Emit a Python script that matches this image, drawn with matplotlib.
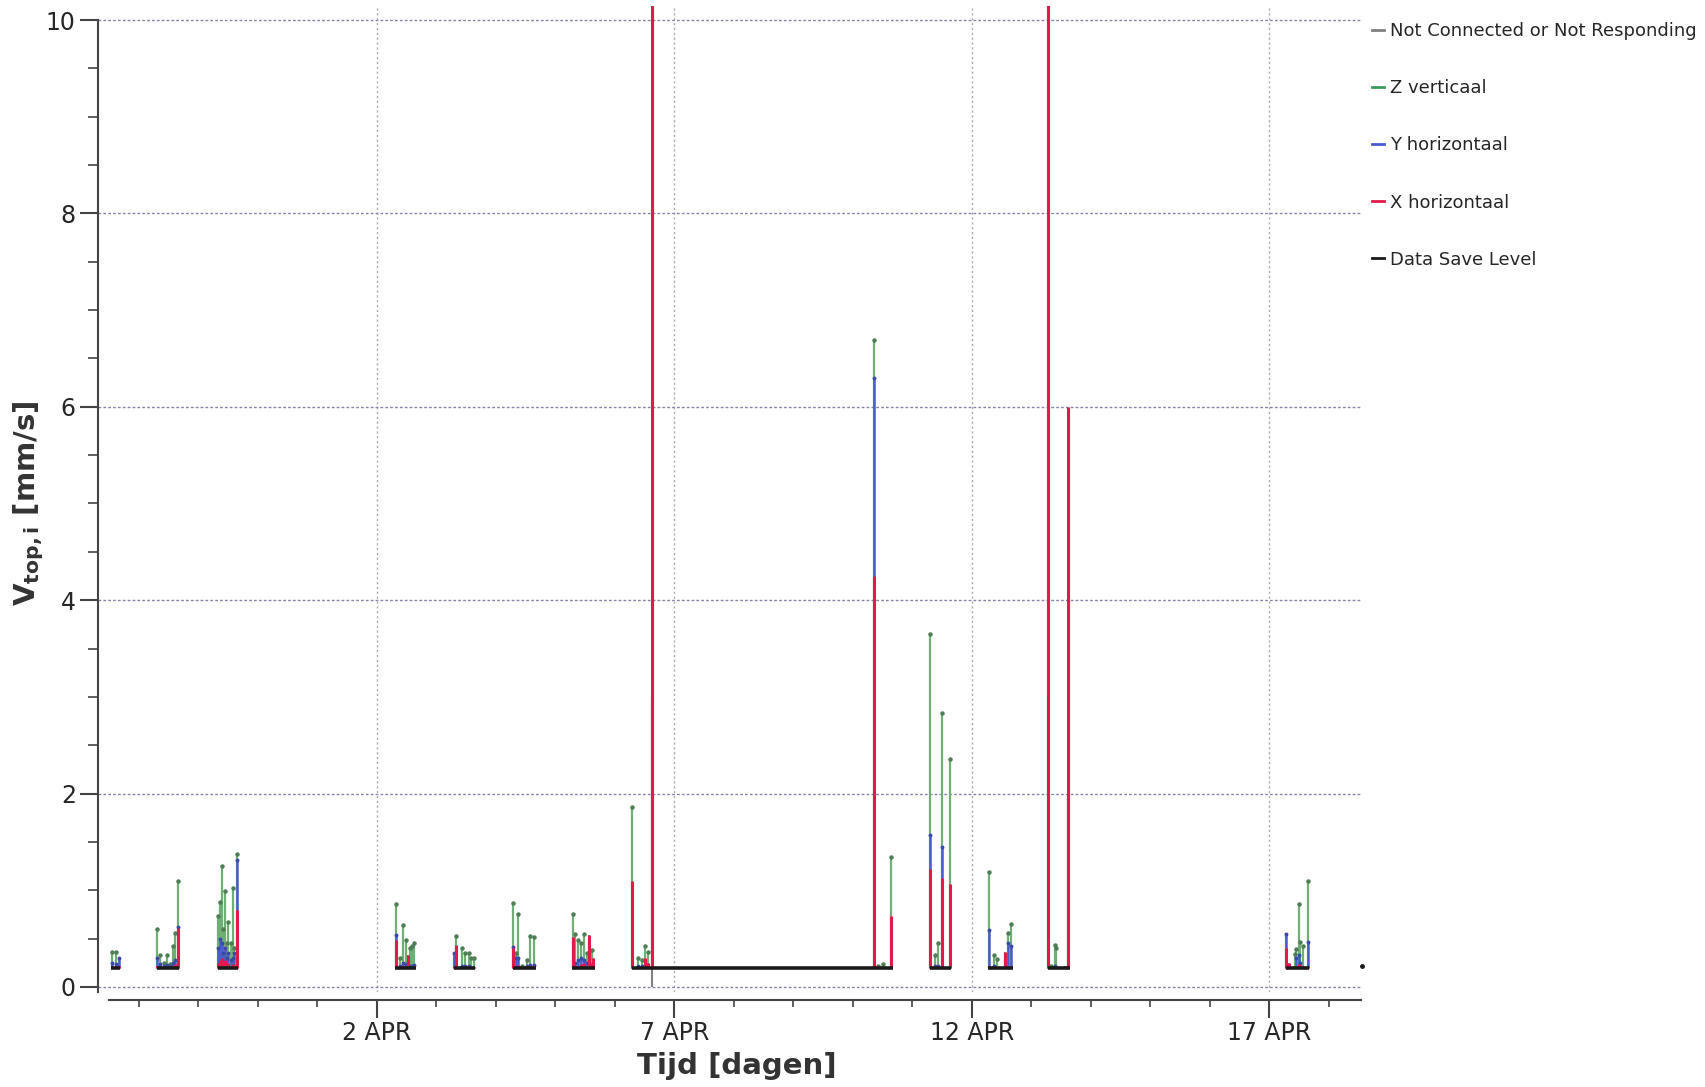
import numpy as np
import matplotlib
matplotlib.use("Agg")
import matplotlib.pyplot as plt
import matplotlib.dates as mdates
from matplotlib.lines import Line2D
from matplotlib.ticker import MultipleLocator, FuncFormatter

plt.rcParams['font.family'] = ['DejaVu Sans']
plt.rcParams['mathtext.fontset'] = 'dejavusans'

# ---------------- data (times: days after 28 MAR 00:00) ----------------
event_days = [
    0.551, 0.608, 0.664,
    1.308, 1.353, 1.415, 1.471, 1.521, 1.576, 1.605, 1.650,
    2.333, 2.361, 2.390, 2.417, 2.445, 2.474, 2.501, 2.541, 2.575, 2.602, 2.642,
    5.314, 5.387, 5.442, 5.482, 5.516, 5.555, 5.593, 5.627,
    6.299, 6.323, 6.434, 6.479, 6.546, 6.580, 6.635,
    7.291, 7.331, 7.375, 7.432, 7.516, 7.571, 7.639,
    8.289, 8.328, 8.383, 8.429, 8.479, 8.529, 8.563, 8.608, 8.635,
    9.291, 9.392, 9.449, 9.504, 9.560, 9.617,
    13.353, 13.425, 13.509, 13.650,
    14.294, 14.378, 14.424, 14.501, 14.630,
    15.284, 15.368, 15.425, 15.555, 15.610, 15.667,
    16.283, 16.339, 16.395, 16.423, 16.563, 16.619,
    20.289, 20.333, 20.429, 20.457, 20.496, 20.524, 20.568, 20.652,
]
z_verticaal = [
    0.36, 0.36, 0.30,
    0.60, 0.33, 0.25, 0.33, 0.24, 0.42, 0.56, 1.10,
    0.73, 0.88, 1.25, 0.60, 0.99, 0.45, 0.67, 0.45, 1.02, 0.40, 1.38,
    0.86, 0.30, 0.64, 0.49, 0.33, 0.40, 0.42, 0.45,
    0.35, 0.53, 0.40, 0.35, 0.35, 0.30, 0.30,
    0.87, 0.35, 0.75, 0.22, 0.28, 0.53, 0.52,
    0.75, 0.55, 0.49, 0.45, 0.55, 0.35, 0.54, 0.38, 0.30,
    1.86, 0.30, 0.28, 0.42, 0.36, 3.00,
    6.69, 0.22, 0.24, 1.34,
    3.65, 0.33, 0.45, 2.83, 2.36,
    1.19, 0.33, 0.29, 0.36, 0.56, 0.65,
    3.00, 0.22, 0.43, 0.40, 0.22, 2.00,
    0.55, 0.25, 0.34, 0.39, 0.86, 0.47, 0.42, 1.10,
]
y_horizontaal = [
    0.25, 0.24, 0.30,
    0.30, 0.24, 0.22, 0.23, 0.22, 0.25, 0.28, 0.62,
    0.40, 0.50, 0.45, 0.35, 0.40, 0.30, 0.35, 0.28, 0.30, 0.35, 1.31,
    0.54, 0.22, 0.25, 0.24, 0.30, 0.22, 0.22, 0.23,
    0.35, 0.25, 0.22, 0.22, 0.22, 0.21, 0.21,
    0.41, 0.30, 0.30, 0.21, 0.22, 0.23, 0.23,
    0.30, 0.25, 0.28, 0.30, 0.28, 0.25, 0.28, 0.22, 0.22,
    1.00, 0.22, 0.22, 0.25, 0.25, 2.50,
    6.30, 0.21, 0.21, 0.70,
    1.57, 0.22, 0.22, 1.45, 1.00,
    0.59, 0.22, 0.21, 0.25, 0.45, 0.42,
    2.50, 0.21, 0.22, 0.22, 0.21, 1.50,
    0.55, 0.22, 0.22, 0.30, 0.33, 0.25, 0.22, 0.46,
]
x_horizontaal = [
    0.22, 0.22, 0.22,
    0.22, 0.22, 0.21, 0.22, 0.21, 0.22, 0.24, 0.61,
    0.25, 0.28, 0.30, 0.25, 0.28, 0.24, 0.25, 0.22, 0.24, 0.22, 0.80,
    0.49, 0.21, 0.22, 0.22, 0.33, 0.21, 0.21, 0.22,
    0.22, 0.43, 0.21, 0.21, 0.21, 0.21, 0.21,
    0.40, 0.22, 0.23, 0.21, 0.21, 0.22, 0.22,
    0.52, 0.22, 0.22, 0.24, 0.25, 0.22, 0.54, 0.25, 0.30,
    1.10, 0.21, 0.21, 0.30, 0.25, 11.0,
    4.25, 0.21, 0.21, 0.73,
    1.22, 0.21, 0.21, 1.13, 1.07,
    0.22, 0.21, 0.21, 0.36, 0.22, 0.22,
    11.0, 0.21, 0.21, 0.22, 0.22, 6.00,
    0.40, 0.25, 0.22, 0.22, 0.24, 0.22, 0.22, 0.22,
]
save_level = 0.2
save_start = [0.53, 1.297, 2.323, 5.303, 6.299, 7.291, 8.283, 9.291, 14.294, 15.274, 16.283, 20.277]
save_end = [0.68, 1.672, 2.669, 5.650, 6.647, 7.667, 8.664, 13.677, 14.659, 15.694, 16.647, 20.669]
save_point_day = [21.555]
save_point_val = [0.22]
nc_days = [9.617]
nc_values = [0.0]

legend_labels = ["Not Connected or Not Responding", "Z verticaal", "Y horizontaal",
                 "X horizontaal", "Data Save Level"]

GREEN = "#6fae74"
BLUE = "#4a5ccc"
RED = "#e3194c"
GREY = "#808080"
BLACK = "#1a1a1a"

# ---------------- figure ----------------
W, H = 1705, 1087
fig = plt.figure(figsize=(W / 100, H / 100), dpi=100)
ax = fig.add_axes([98 / W, 1 - 991.8 / H, 1264 / W, 986.3 / H])

base = mdates.date2num(np.datetime64('2014-03-28T00:00'))
t = base + np.array(event_days)
z = np.array(z_verticaal)
yv = np.array(y_horizontaal)
xv = np.array(x_horizontaal)
lvl_ev = np.full(len(t), save_level)

ax.vlines(t, lvl_ev, z, colors=GREEN, lw=1.6, zorder=3)
vis_z = z > np.maximum(yv, xv)
ax.plot(t[vis_z], z[vis_z], ls='none', marker='o', ms=2.2, color='#4f7d55', zorder=3)
ax.vlines(t, lvl_ev, yv, colors=BLUE, lw=1.8, zorder=4)
vis_y = yv > xv
ax.plot(t[vis_y], yv[vis_y], ls='none', marker='o', ms=1.8, color='#3b4aa8', zorder=4)
ax.vlines(t, lvl_ev, xv, colors=RED, lw=2.2, zorder=5)

nc_t = base + np.array(nc_days)
ax.vlines(nc_t, np.array(nc_values), np.full(len(nc_t), save_level),
          colors=GREY, lw=1.5, zorder=5)
seg_s = base + np.array(save_start)
seg_e = base + np.array(save_end)
ax.hlines(np.full(len(seg_s), save_level), seg_s, seg_e,
          colors=BLACK, lw=2.6, zorder=6)
ax.plot(base + np.array(save_point_day), save_point_val, ls='none', marker='o',
        ms=2.5, color=BLACK, zorder=6, clip_on=False)

# axes limits / ticks
ax.set_xlim(base + 0.311, base + 21.56)
ax.set_ylim(-0.05, 10.15)
ax.yaxis.set_major_locator(MultipleLocator(2))
ax.yaxis.set_minor_locator(MultipleLocator(0.5))
ax.yaxis.set_major_formatter(FuncFormatter(lambda v, p: f"{v:.0f}"))
ax.xaxis.set_major_locator(mdates.DayLocator(bymonthday=[2, 7, 12, 17]))
ax.xaxis.set_minor_locator(mdates.DayLocator())
ax.xaxis.set_major_formatter(FuncFormatter(
    lambda v, p: f"{mdates.num2date(v).day} {mdates.num2date(v).strftime('%b').upper()}"))

for s in ['top', 'right']:
    ax.spines[s].set_visible(False)
ax.spines['left'].set_bounds(-0.05, 10)
ax.spines['bottom'].set_position(('outward', 6))
ax.spines['bottom'].set_bounds(base + 0.496, base + 21.54)
for s in ['left', 'bottom']:
    ax.spines[s].set_color('#444444')
    ax.spines[s].set_linewidth(1.5)

ax.tick_params(axis='y', which='major', length=13, width=1.5, color='#444444',
               labelsize=17, labelcolor='#262626', pad=3)
ax.tick_params(axis='y', which='minor', length=7, width=1.2, color='#444444')
ax.tick_params(axis='x', which='major', length=13, width=1.5, color='#444444',
               labelsize=17, labelcolor='#262626', pad=2)
ax.tick_params(axis='x', which='minor', length=5, width=1.2, color='#444444')

ax.grid(axis='y', which='major', color='#8585aa', ls=(0, (2, 1.5)), lw=1.0, zorder=0)
ax.grid(axis='x', which='major', color='#aaaaaa', ls=(0, (1.5, 2)), lw=1.0, zorder=0)

ax.set_xlabel('Tijd [dagen]', fontsize=21, fontweight='bold', color='#333333')
ax.xaxis.set_label_coords(0.5055, -0.0615)
ax.set_ylabel(r'$\mathbf{V_{top,i}}$ [mm/s]', fontsize=21, fontweight='bold', color='#333333')
ax.yaxis.set_label_coords(-0.041, 0.4956)

handles = [Line2D([], [], color=c, lw=2) for c in [GREY, "#3f9a5e", BLUE, RED, BLACK]]
fig.legend(handles, legend_labels, loc='upper left',
           bbox_to_anchor=(1372 / W, 1 - 22 / H), bbox_transform=fig.transFigure,
           frameon=False, fontsize=13, handlelength=0.65, handletextpad=0.35,
           labelspacing=2.17, borderpad=0, borderaxespad=0, labelcolor='#262626')

fig.savefig('out.png', dpi=100, facecolor='white')
